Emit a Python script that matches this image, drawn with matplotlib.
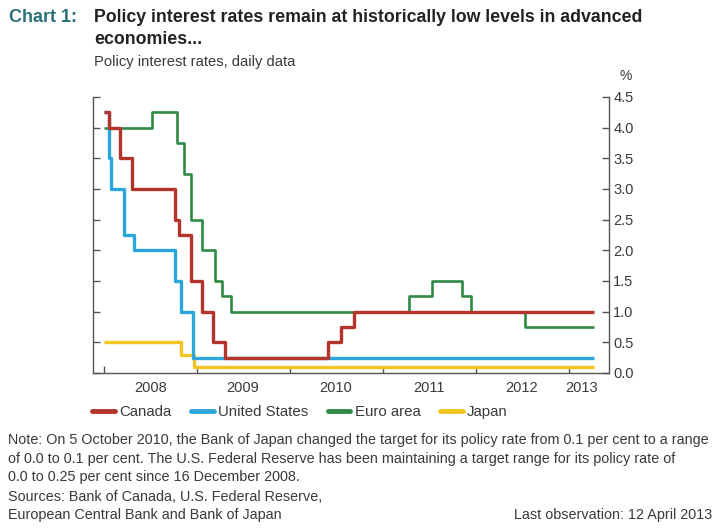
import matplotlib
matplotlib.use("Agg")
import matplotlib.pyplot as plt
import matplotlib.dates as mdates
from matplotlib.ticker import FixedLocator, NullFormatter
import pandas as pd

# ---- data (policy rate change points, %) ----
canada_dates = ["2008-01-01", "2008-01-22", "2008-03-04", "2008-04-22", "2008-10-08",
                "2008-10-21", "2008-12-09", "2009-01-20", "2009-03-03", "2009-04-21",
                "2010-06-01", "2010-07-20", "2010-09-08", "2013-04-12"]
canada_rates = [4.25, 4.00, 3.50, 3.00, 2.50, 2.25, 1.50, 1.00, 0.50, 0.25,
                0.50, 0.75, 1.00, 1.00]

us_dates = ["2008-01-01", "2008-01-22", "2008-01-30", "2008-03-18", "2008-04-30",
            "2008-10-08", "2008-10-29", "2008-12-16", "2013-04-12"]
us_rates = [4.25, 3.50, 3.00, 2.25, 2.00, 1.50, 1.00, 0.25, 0.25]

euro_dates = ["2008-01-01", "2008-07-09", "2008-10-15", "2008-11-12", "2008-12-10",
              "2009-01-21", "2009-03-11", "2009-04-08", "2009-05-13", "2011-04-13",
              "2011-07-13", "2011-11-09", "2011-12-14", "2012-07-11", "2013-04-12"]
euro_rates = [4.00, 4.25, 3.75, 3.25, 2.50, 2.00, 1.50, 1.25, 1.00, 1.25,
              1.50, 1.25, 1.00, 0.75, 0.75]

japan_dates = ["2008-01-01", "2008-10-31", "2008-12-19", "2013-04-12"]
japan_rates = [0.50, 0.30, 0.10, 0.10]

year_labels = ["2008", "2009", "2010", "2011", "2012", "2013"]
y_ticks = [0.0, 0.5, 1.0, 1.5, 2.0, 2.5, 3.0, 3.5, 4.0, 4.5]

note_lines = [
    "Note: On 5 October 2010, the Bank of Japan changed the target for its policy rate from 0.1 per cent to a range",
    "of 0.0 to 0.1 per cent. The U.S. Federal Reserve has been maintaining a target range for its policy rate of",
    "0.0 to 0.25 per cent since 16 December 2008.",
]
source_lines = [
    "Sources: Bank of Canada, U.S. Federal Reserve,",
    "European Central Bank and Bank of Japan",
]

RED = "#B3342B"
BLUE = "#2AA6DD"
GREEN = "#2E8A45"
YELLOW = "#F2C523"
TXT = "#3A3A3A"

plt.rcParams["font.family"] = ["Liberation Sans", "DejaVu Sans"]

fig = plt.figure(figsize=(7.18, 5.31), dpi=100)
ax = fig.add_axes([93 / 718, 1 - 373 / 531, (609 - 93) / 718, (373 - 97) / 531])

def d(lst):
    return pd.to_datetime(lst)

ax.plot(d(japan_dates), japan_rates, drawstyle="steps-post", color=YELLOW, lw=2.4,
        solid_capstyle="butt", label="Japan")
ax.plot(d(euro_dates), euro_rates, drawstyle="steps-post", color=GREEN, lw=1.9,
        solid_capstyle="butt", label="Euro area")
ax.plot(d(us_dates), us_rates, drawstyle="steps-post", color=BLUE, lw=2.4,
        solid_capstyle="butt", label="United States")
ax.plot(d(canada_dates), canada_rates, drawstyle="steps-post", color=RED, lw=2.4,
        solid_capstyle="butt", label="Canada")

ax.set_ylim(0, 4.5)
ax.set_xlim(pd.Timestamp("2007-11-19"), pd.Timestamp("2013-06-08"))

ax.spines["top"].set_visible(False)
for s in ["left", "right", "bottom"]:
    ax.spines[s].set_color("#555555")
    ax.spines[s].set_linewidth(1.0)

# y axis: ticks on both sides, inward, labels on the right
ax.yaxis.set_major_locator(FixedLocator(y_ticks))
ax.tick_params(axis="y", which="major", direction="in", length=5, width=1.0,
               color="#555555", left=True, right=True, labelleft=False,
               labelright=True, labelsize=10.5, labelcolor=TXT, pad=3)
ax.set_yticklabels([f"{v:.1f}" for v in y_ticks])

# x axis: year boundary ticks, labels centred on years
year_starts = [mdates.date2num(pd.Timestamp(f"{y}-01-01")) for y in year_labels]
label_pos = [mdates.date2num(pd.Timestamp(f"{y}-07-01")) for y in year_labels[:-1]]
label_pos.append(mdates.date2num(pd.Timestamp("2013-02-20")))
ax.xaxis.set_major_locator(FixedLocator(year_starts))
ax.xaxis.set_major_formatter(NullFormatter())
ax.xaxis.set_minor_locator(FixedLocator(label_pos))
ax.set_xticklabels(year_labels, minor=True)
ax.tick_params(axis="x", which="major", direction="in", length=5, width=1.0,
               color="#555555")
ax.tick_params(axis="x", which="minor", length=0, labelsize=10.5,
               labelcolor=TXT, pad=6)

fig.text(626 / 718, 1 - 76 / 531, "%", ha="center", va="center", fontsize=10,
         color=TXT)

# titles
fig.text(9 / 718, 1 - 17 / 531, "Chart 1:", ha="left", va="center", fontsize=13,
         fontweight="bold", color="#2B7079")
fig.text(94 / 718, 1 - 17 / 531,
         "Policy interest rates remain at historically low levels in advanced",
         ha="left", va="center", fontsize=12.8, fontweight="bold", color="#222222")
fig.text(94 / 718, 1 - 40 / 531, "economies...", ha="left", va="center",
         fontsize=12.8, fontweight="bold", color="#222222")
fig.text(94 / 718, 1 - 62 / 531, "Policy interest rates, daily data", ha="left",
         va="center", fontsize=10.6, color=TXT)

# legend
handles, labels = ax.get_legend_handles_labels()
order = [3, 2, 1, 0]
leg = fig.legend([handles[i] for i in order], [labels[i] for i in order],
                 loc="center", bbox_to_anchor=(300 / 718, 1 - 412 / 531), ncol=4,
                 frameon=False, fontsize=10.8, handlelength=1.5, handletextpad=0.3,
                 columnspacing=1.3, borderpad=0, borderaxespad=0)
for t in leg.get_texts():
    t.set_color(TXT)
for h in leg.legend_handles:
    h.set_linewidth(3.5)
    h.set_solid_capstyle("round")

# notes
for i, line in enumerate(note_lines):
    fig.text(8 / 718, 1 - (440 + 18.5 * i) / 531, line, ha="left", va="center",
             fontsize=10.35, color=TXT)
for i, line in enumerate(source_lines):
    fig.text(8 / 718, 1 - (497 + 18.5 * i) / 531, line, ha="left", va="center",
             fontsize=10.35, color=TXT)
fig.text(712 / 718, 1 - 515.5 / 531, "Last observation: 12 April 2013", ha="right",
         va="center", fontsize=10.35, color=TXT)

fig.savefig("out.png", dpi=100)
